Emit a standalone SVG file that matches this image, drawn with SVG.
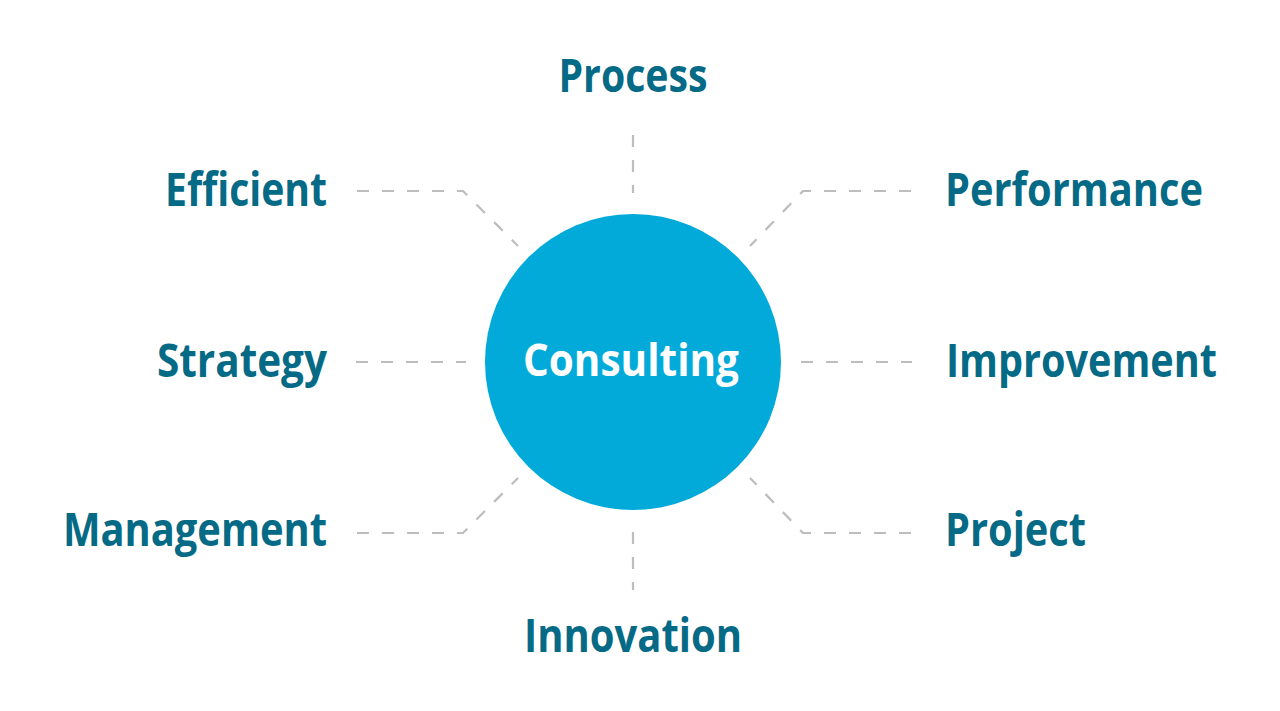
<svg xmlns="http://www.w3.org/2000/svg" width="1280" height="711" viewBox="0 0 1280 711">
<style>
.lbl{font-family:"Open Sans","Liberation Sans",sans-serif;font-weight:700;font-size:46px;fill:#056A85;}
.ctr{font-family:"Open Sans","Liberation Sans",sans-serif;font-weight:700;font-size:45px;fill:#FFFFFF;}
.con{fill:none;stroke:#BDBDBD;stroke-width:2.2;stroke-dasharray:12 13;}
</style>
<rect width="1280" height="711" fill="#FFFFFF"/>
<g id="connectors">
<path class="con" d="M357 191 H463 L518 246"/>
<path class="con" d="M911 191 H803 L750 246"/>
<path class="con" d="M356 362 H466"/>
<path class="con" d="M801 362 H912"/>
<path class="con" d="M357 533 H463 L518 478"/>
<path class="con" d="M911 533 H803 L750 478"/>
<path class="con" d="M633 135 V193"/>
<path class="con" d="M633 532 V590"/>
</g>
<g id="consulting">
<circle cx="633" cy="362" r="148" fill="#02AAD9"/>
<text class="ctr" x="631" y="376" text-anchor="middle" textLength="216" lengthAdjust="spacingAndGlyphs">Consulting</text>
</g>
<g id="process"><text class="lbl" x="633" y="92" text-anchor="middle" textLength="149" lengthAdjust="spacingAndGlyphs">Process</text></g>
<g id="efficient"><text class="lbl" x="327" y="206" text-anchor="end" textLength="162" lengthAdjust="spacingAndGlyphs">Efficient</text></g>
<g id="performance"><text class="lbl" x="945" y="206" textLength="258" lengthAdjust="spacingAndGlyphs">Performance</text></g>
<g id="strategy"><text class="lbl" x="327" y="377" text-anchor="end" textLength="170" lengthAdjust="spacingAndGlyphs">Strategy</text></g>
<g id="improvement"><text class="lbl" x="946" y="377" textLength="271" lengthAdjust="spacingAndGlyphs">Improvement</text></g>
<g id="management"><text class="lbl" x="327" y="546" text-anchor="end" textLength="264" lengthAdjust="spacingAndGlyphs">Management</text></g>
<g id="project"><text class="lbl" x="945" y="546" textLength="141" lengthAdjust="spacingAndGlyphs">Project</text></g>
<g id="innovation"><text class="lbl" x="633" y="652" text-anchor="middle" textLength="218" lengthAdjust="spacingAndGlyphs">Innovation</text></g>
</svg>
